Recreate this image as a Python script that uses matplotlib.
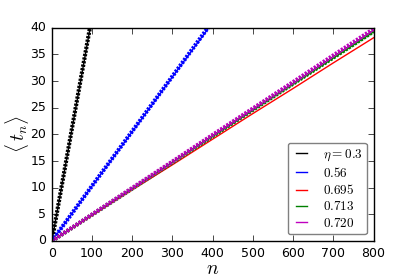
import matplotlib
matplotlib.use("Agg")
import matplotlib.pyplot as plt
import numpy as np

plt.style.use("classic")
plt.rcParams.update(
    {
        "figure.facecolor": "white",
        "savefig.facecolor": "white",
        "mathtext.fontset": "cm",
        "font.size": 10,
        "xtick.labelsize": 9,
        "ytick.labelsize": 9,
    }
)

# measured mean times <t_n> for each eta
etas = [r"$\eta=0.3$", r"$0.56$", r"$0.695$", r"$0.713$", r"$0.720$"]
colors = ["black", "blue", "red", "green", "m"]

n_03 = [0, 20, 40, 60, 80, 100]
t_03 = [0, 8.4, 16.8, 25.2, 33.6, 42.0]
n_056 = [0, 100, 200, 300, 400]
t_056 = [0, 10.3, 20.5, 30.8, 41.0]
n_long = [0, 100, 200, 300, 400, 500, 600, 700, 800]
t_0695 = [0, 4.8, 9.6, 14.3, 19.1, 23.9, 28.6, 33.4, 38.1]
t_0713 = [0, 4.9, 9.8, 14.7, 19.6, 24.5, 29.4, 34.3, 39.2]
t_0720 = [0, 4.95, 9.9, 14.85, 19.8, 24.7, 29.6, 34.6, 39.5]

# fitted curves (dashed)
fit_03 = [0, 8.45, 16.9, 25.35, 33.8, 42.25]
fit_056 = [0, 10.35, 20.6, 30.9, 41.2]
fit_0713 = [0, 4.92, 9.84, 14.76, 19.68, 24.6, 29.5, 34.4, 39.3]
fit_0720 = [0, 4.97, 9.94, 14.9, 19.9, 24.85, 29.8, 34.8, 39.75]

fig, ax = plt.subplots(figsize=(4.15, 2.77), dpi=100)
fig.subplots_adjust(left=0.125, right=0.9, top=0.9, bottom=0.13)

series = [(n_03, t_03), (n_056, t_056), (n_long, t_0695), (n_long, t_0713), (n_long, t_0720)]
for (x, y), c, lab in zip(series, colors, etas):
    ax.plot(x, y, "-", color=c, lw=1, label=lab)

fits = [(n_03, fit_03, "black"), (n_056, fit_056, "blue"),
        (n_long, fit_0713, "green"), (n_long, fit_0720, "m")]
for x, y, c in fits:
    ax.plot(x, y, "--", color=c, lw=3, dashes=(1.6, 1.0))

ax.set_xlim(0, 800)
ax.set_ylim(0, 40)
ax.set_xticks(np.arange(0, 801, 100))
ax.set_yticks(np.arange(0, 41, 5))
ax.set_xlabel(r"$n$", fontsize=14, va="center")
ax.set_ylabel(r"$\langle\, t_n \rangle$", fontsize=14, va="center")
ax.xaxis.set_label_coords(0.5, -0.128)
ax.yaxis.set_label_coords(-0.108, 0.5)

leg = ax.legend(loc="lower right", fontsize=9.5, handlelength=1.4, borderpad=0.35,
                labelspacing=0.25, handletextpad=0.9, fancybox=True,
                borderaxespad=0.5)
leg.get_frame().set_edgecolor("0.5")

plt.savefig("out.png", dpi=100)
